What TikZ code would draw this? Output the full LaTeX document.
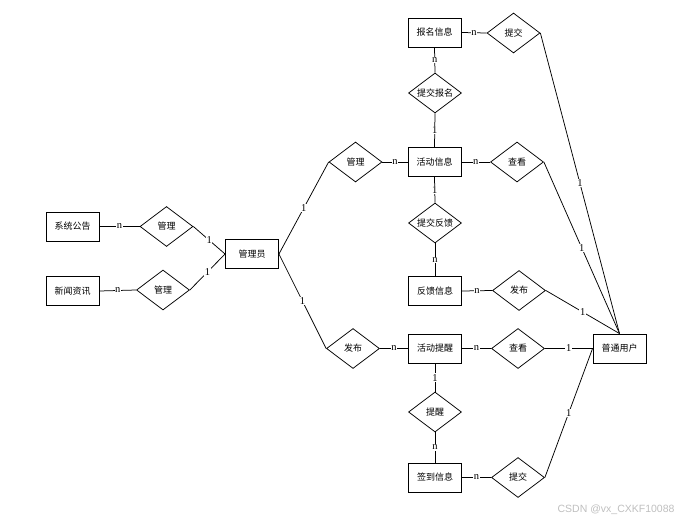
\documentclass[tikz,border=0pt]{standalone}
\usepackage{fontspec}
\setmainfont{Liberation Serif}
\newfontfamily\cjk{Noto Sans CJK SC}
\newfontfamily\wmfont{Liberation Sans}
\usetikzlibrary{shapes.geometric}
\tikzset{
  ent/.style={draw, line width=0.9pt, minimum width=53pt, minimum height=29pt, inner sep=0pt, font=\cjk\fontsize{9}{10}\selectfont},
  rel/.style={draw, line width=0.75pt, shape=diamond, aspect=1.325, minimum width=53pt, minimum height=40pt, inner sep=0pt, font=\cjk\fontsize{9}{10}\selectfont},
  conn/.style={line width=0.75pt},
  lab/.style={fill=white, inner sep=0.6pt, font=\fontsize{10.5}{11}\selectfont},
}
\begin{document}
\begin{tikzpicture}[x=1pt,y=-1pt]
\useasboundingbox (0,0) rectangle (688,524);
% entities
\node[ent] (xtgg) at (72.5,226.5) {系统公告};
\node[ent] (xwzx) at (72.5,291) {新闻资讯};
\node[ent] (gly) at (252,254) {管理员};
\node[ent] (bmxx) at (434.5,32.5) {报名信息};
\node[ent] (hdxx) at (434.5,162) {活动信息};
\node[ent] (fkxx) at (435,291) {反馈信息};
\node[ent] (hdtx) at (435,348.5) {活动提醒};
\node[ent] (ptyh) at (619.5,348.5) {普通用户};
\node[ent] (qdxx) at (435,477.5) {签到信息};
% relationships
\node[rel] (gl1) at (166.5,226.5) {管理};
\node[rel] (gl2) at (163,290) {管理};
\node[rel] (tj1) at (513.5,33) {提交};
\node[rel] (tjbm) at (435,93) {提交报名};
\node[rel] (gl3) at (355.5,162) {管理};
\node[rel] (ck1) at (517,162) {查看};
\node[rel] (tjfk) at (435,223) {提交反馈};
\node[rel] (fb1) at (519,290.5) {发布};
\node[rel] (fb2) at (353,348.5) {发布};
\node[rel] (ck2) at (518,348.5) {查看};
\node[rel] (tx) at (435,412) {提醒};
\node[rel] (tj2) at (518,477.5) {提交};
% connectors
\draw[conn] (xtgg.east) -- node[lab]{n} (gl1.west);
\draw[conn] (xwzx.east) -- node[lab]{n} (gl2.west);
\draw[conn] (gl1.east) -- node[lab]{1} (gly.west);
\draw[conn] (gl2.east) -- node[lab]{1} (gly.west);
\draw[conn] (gly.east) -- node[lab]{1} (gl3.west);
\draw[conn] (gly.east) -- node[lab]{1} (fb2.west);
\draw[conn] (gl3.east) -- node[lab]{n} (hdxx.west);
\draw[conn] (fb2.east) -- node[lab]{n} (hdtx.west);
\draw[conn] (bmxx.east) -- node[lab]{n} (tj1.west);
\draw[conn] (bmxx.south) -- node[lab]{n} (tjbm.north);
\draw[conn] (tjbm.south) -- node[lab]{1} (hdxx.north);
\draw[conn] (hdxx.south) -- node[lab]{1} (tjfk.north);
\draw[conn] (tjfk.south) -- node[lab]{n} (fkxx.north);
\draw[conn] (fkxx.east) -- node[lab]{n} (fb1.west);
\draw[conn] (hdxx.east) -- node[lab]{n} (ck1.west);
\draw[conn] (hdtx.east) -- node[lab]{n} (ck2.west);
\draw[conn] (hdtx.south) -- node[lab]{1} (tx.north);
\draw[conn] (tx.south) -- node[lab]{n} (qdxx.north);
\draw[conn] (qdxx.east) -- node[lab]{n} (tj2.west);
\draw[conn] (tj1.east) -- node[lab]{1} (ptyh.north);
\draw[conn] (ck1.east) -- node[lab]{1} (ptyh.north);
\draw[conn] (fb1.east) -- node[lab]{1} (ptyh.north);
\draw[conn] (ck2.east) -- node[lab]{1} (ptyh.west);
\draw[conn] (tj2.east) -- node[lab]{1} (ptyh.west);
% watermark
\node[font=\wmfont\fontsize{10.5}{12}\selectfont, text=black!25, anchor=east] (wm) at (678,510) {CSDN @vx\_CXKF10088};
\end{tikzpicture}
\end{document}
